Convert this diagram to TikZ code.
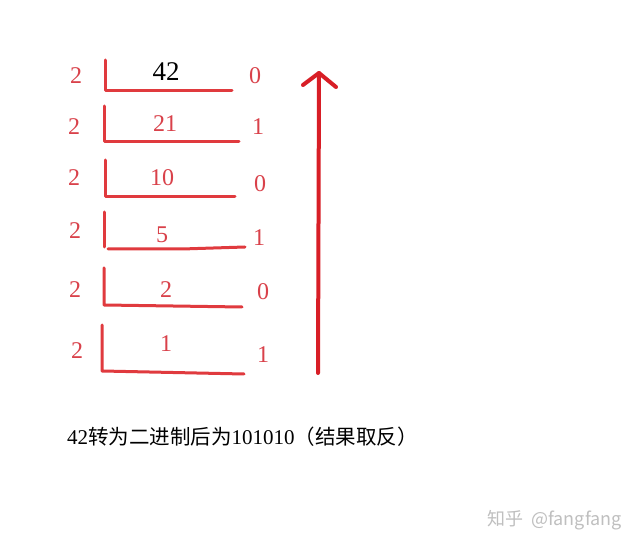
\documentclass[tikz,border=0pt]{standalone}
\usepackage{fontspec}
\setmainfont{Liberation Serif}
\newfontfamily\cjk{Noto Sans CJK SC}
\definecolor{penred}{HTML}{E03A3E}
\definecolor{txtred}{HTML}{D9414A}
\definecolor{arrred}{HTML}{D81E26}
\begin{document}
\begin{tikzpicture}[x=1pt,y=-1pt,
  pen/.style={draw=penred,line width=3pt,line cap=round,line join=round},
  dig/.style={text=txtred,font=\fontsize{24}{24}\selectfont,inner sep=0pt},
  quot/.style={text=txtred,font=\fontsize{24}{24}\selectfont,inner sep=0pt},
  arr/.style={draw=arrred,line width=4pt,line cap=round,line join=round}]
\useasboundingbox[fill=white] (0,0) rectangle (638,548);
% row 1
\node[dig] (d1) at (76,76) {2};
\node[inner sep=0pt,font=\fontsize{27}{27}\selectfont] (q1) at (166,72) {42};
\node[dig] (r1) at (255,76) {0};
\coordinate (a1) at (105,60); \coordinate (b1) at (105,91); \coordinate (c1) at (232,91);
\draw[pen] (a1) -- (b1) -- (c1);
% row 2
\node[dig] (d2) at (74,127) {2};
\node[quot] (q2) at (165,124) {21};
\node[dig] (r2) at (258,127) {1};
\coordinate (a2) at (104,106); \coordinate (b2) at (104,142); \coordinate (c2) at (239,142);
\draw[pen] (a2) -- (b2) -- (c2);
% row 3
\node[dig] (d3) at (74,178) {2};
\node[quot] (q3) at (162,178) {10};
\node[dig] (r3) at (260,184) {0};
\coordinate (a3) at (105,160); \coordinate (b3) at (105,197); \coordinate (c3) at (235,197);
\draw[pen] (a3) -- (b3) -- (c3);
% row 4
\node[dig] (d4) at (75,231) {2};
\node[quot] (q4) at (162,235) {5};
\node[dig] (r4) at (259,238) {1};
\coordinate (a4) at (104,212); \coordinate (b4) at (104,247);
\coordinate (m4) at (108,249); \coordinate (c4) at (245,247);
\draw[pen] (a4) -- (b4);
\draw[pen] (m4) -- (182,249) -- (c4);
% row 5
\node[dig] (d5) at (75,290) {2};
\node[quot] (q5) at (166,290) {2};
\node[dig] (r5) at (263,292) {0};
\coordinate (a5) at (104,268); \coordinate (b5) at (104,305); \coordinate (c5) at (242,307);
\draw[pen] (a5) -- (b5) -- (c5);
% row 6
\node[dig] (d6) at (77,351) {2};
\node[quot] (q6) at (166,344) {1};
\node[dig] (r6) at (263,355) {1};
\coordinate (a6) at (102,325); \coordinate (b6) at (102,371); \coordinate (c6) at (244,374);
\draw[pen] (a6) -- (b6) -- (c6);
% arrow
\coordinate (t0) at (318,373); \coordinate (t1) at (319,73);
\coordinate (hl) at (303,85); \coordinate (hr) at (336,87);
\draw[arr] (t0) -- (t1);
\draw[arr] (hl) -- (t1) -- (hr);
% caption
\node[anchor=west,inner sep=0pt,font=\fontsize{21}{21}\selectfont] (cap) at (67,437)
  {42{\cjk\fontsize{20.5}{21}\selectfont 转为二进制后为}101010{\cjk\fontsize{20.5}{21}\selectfont （结果取反）}};
\node[anchor=east,inner sep=0pt,text=black!25,font=\cjk\fontsize{18}{18}\selectfont] (wm) at (622,520) {知乎\hspace{4pt} @fangfang};
\end{tikzpicture}
\end{document}
